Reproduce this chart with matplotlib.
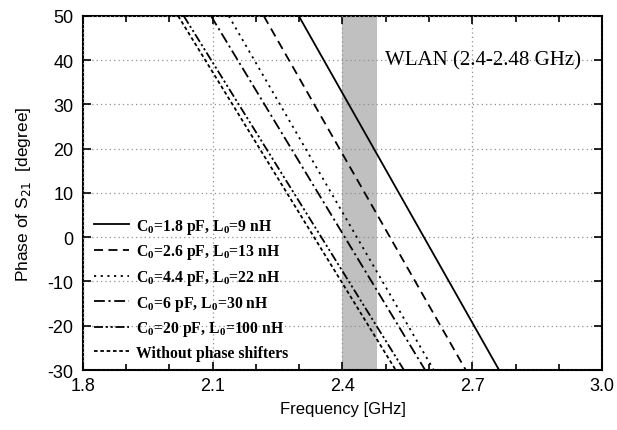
import matplotlib.pyplot as plt
from matplotlib.ticker import MultipleLocator

# phase limits at which each trace leaves the plot (deg)
phase_ends = [50, -30]

# frequency (GHz) where each trace is at +50 deg and -30 deg
freq_c18 = [2.299, 2.762]
freq_c26 = [2.218, 2.685]
freq_c44 = [2.137, 2.611]
freq_c6 = [2.096, 2.591]
freq_c20 = [2.033, 2.542]
freq_none = [2.020, 2.523]

labels = [
    r"C$_\mathbf{0}$=1.8 pF, L$_\mathbf{0}$=9 nH",
    r"C$_\mathbf{0}$=2.6 pF, L$_\mathbf{0}$=13 nH",
    r"C$_\mathbf{0}$=4.4 pF, L$_\mathbf{0}$=22 nH",
    r"C$_\mathbf{0}$=6 pF, L$_\mathbf{0}$=30 nH",
    r"C$_\mathbf{0}$=20 pF, L$_\mathbf{0}$=100 nH",
    "Without phase shifters",
]

wlan_band = [2.4, 2.48]

plt.rcParams['mathtext.fontset'] = 'custom'
plt.rcParams['mathtext.rm'] = 'Liberation Serif'
plt.rcParams['mathtext.bf'] = 'Liberation Serif:bold'
plt.rcParams['axes.unicode_minus'] = False

fig = plt.figure(figsize=(6.17, 4.31), dpi=100)
ax = fig.add_axes([0.1345, 0.1392, 0.8412, 0.8214])

ax.axvspan(wlan_band[0], wlan_band[1], color='#c0c0c0', lw=0, zorder=0)

styles = [
    '-',
    (0, (5, 3)),
    (0, (1.2, 2.5)),
    (0, (6, 2, 1.2, 2)),
    (0, (5, 1.5, 1.2, 1.5, 1.2, 1.5)),
    (0, (2, 1.5)),
]
series = [freq_c18, freq_c26, freq_c44, freq_c6, freq_c20, freq_none]
for f, ls, lab in zip(series, styles, labels):
    ax.plot(f, phase_ends, color='black', lw=1.3, ls=ls, label=lab, zorder=3)

ax.set_xlim(1.8, 3.0)
ax.set_ylim(-30, 50)
ax.xaxis.set_major_locator(MultipleLocator(0.3))
ax.xaxis.set_minor_locator(MultipleLocator(0.1))
ax.yaxis.set_major_locator(MultipleLocator(10))

ax.grid(True, which='major', color='#909090', ls=(0, (1, 2.5)), lw=0.9, zorder=1)
ax.set_axisbelow(False)

ax.tick_params(which='both', direction='in', top=True, right=True,
               labelsize=13, width=1.2)
ax.tick_params(axis='y', pad=7)
ax.tick_params(axis='x', pad=5)
ax.tick_params(which='major', length=6)
ax.tick_params(which='minor', length=4)
for lbl in ax.get_xticklabels() + ax.get_yticklabels():
    lbl.set_fontfamily('Liberation Sans')
for sp in ax.spines.values():
    sp.set_linewidth(1.5)

ax.xaxis.set_major_formatter(plt.FuncFormatter(lambda v, p: f"{v:.1f}"))

ax.set_xlabel("Frequency [GHz]", fontfamily='Liberation Sans', fontsize=12, labelpad=5)
ax.set_ylabel(r"Phase of S$_{21}$  [degree]", fontfamily='Liberation Sans',
              fontsize=12.5, labelpad=10, math_fontfamily='dejavusans')

ax.text(2.498, 40, "WLAN (2.4-2.48 GHz)", fontfamily='Liberation Serif',
        fontsize=15, va='center', ha='left', zorder=4)

leg = ax.legend(loc='lower left', bbox_to_anchor=(0.0, -0.005), frameon=False,
                prop={'family': 'Liberation Serif', 'weight': 'bold', 'size': 11.3},
                handlelength=2.2, handletextpad=0.45, labelspacing=0.42,
                borderaxespad=0.3)

fig.savefig("out.png", dpi=100)
